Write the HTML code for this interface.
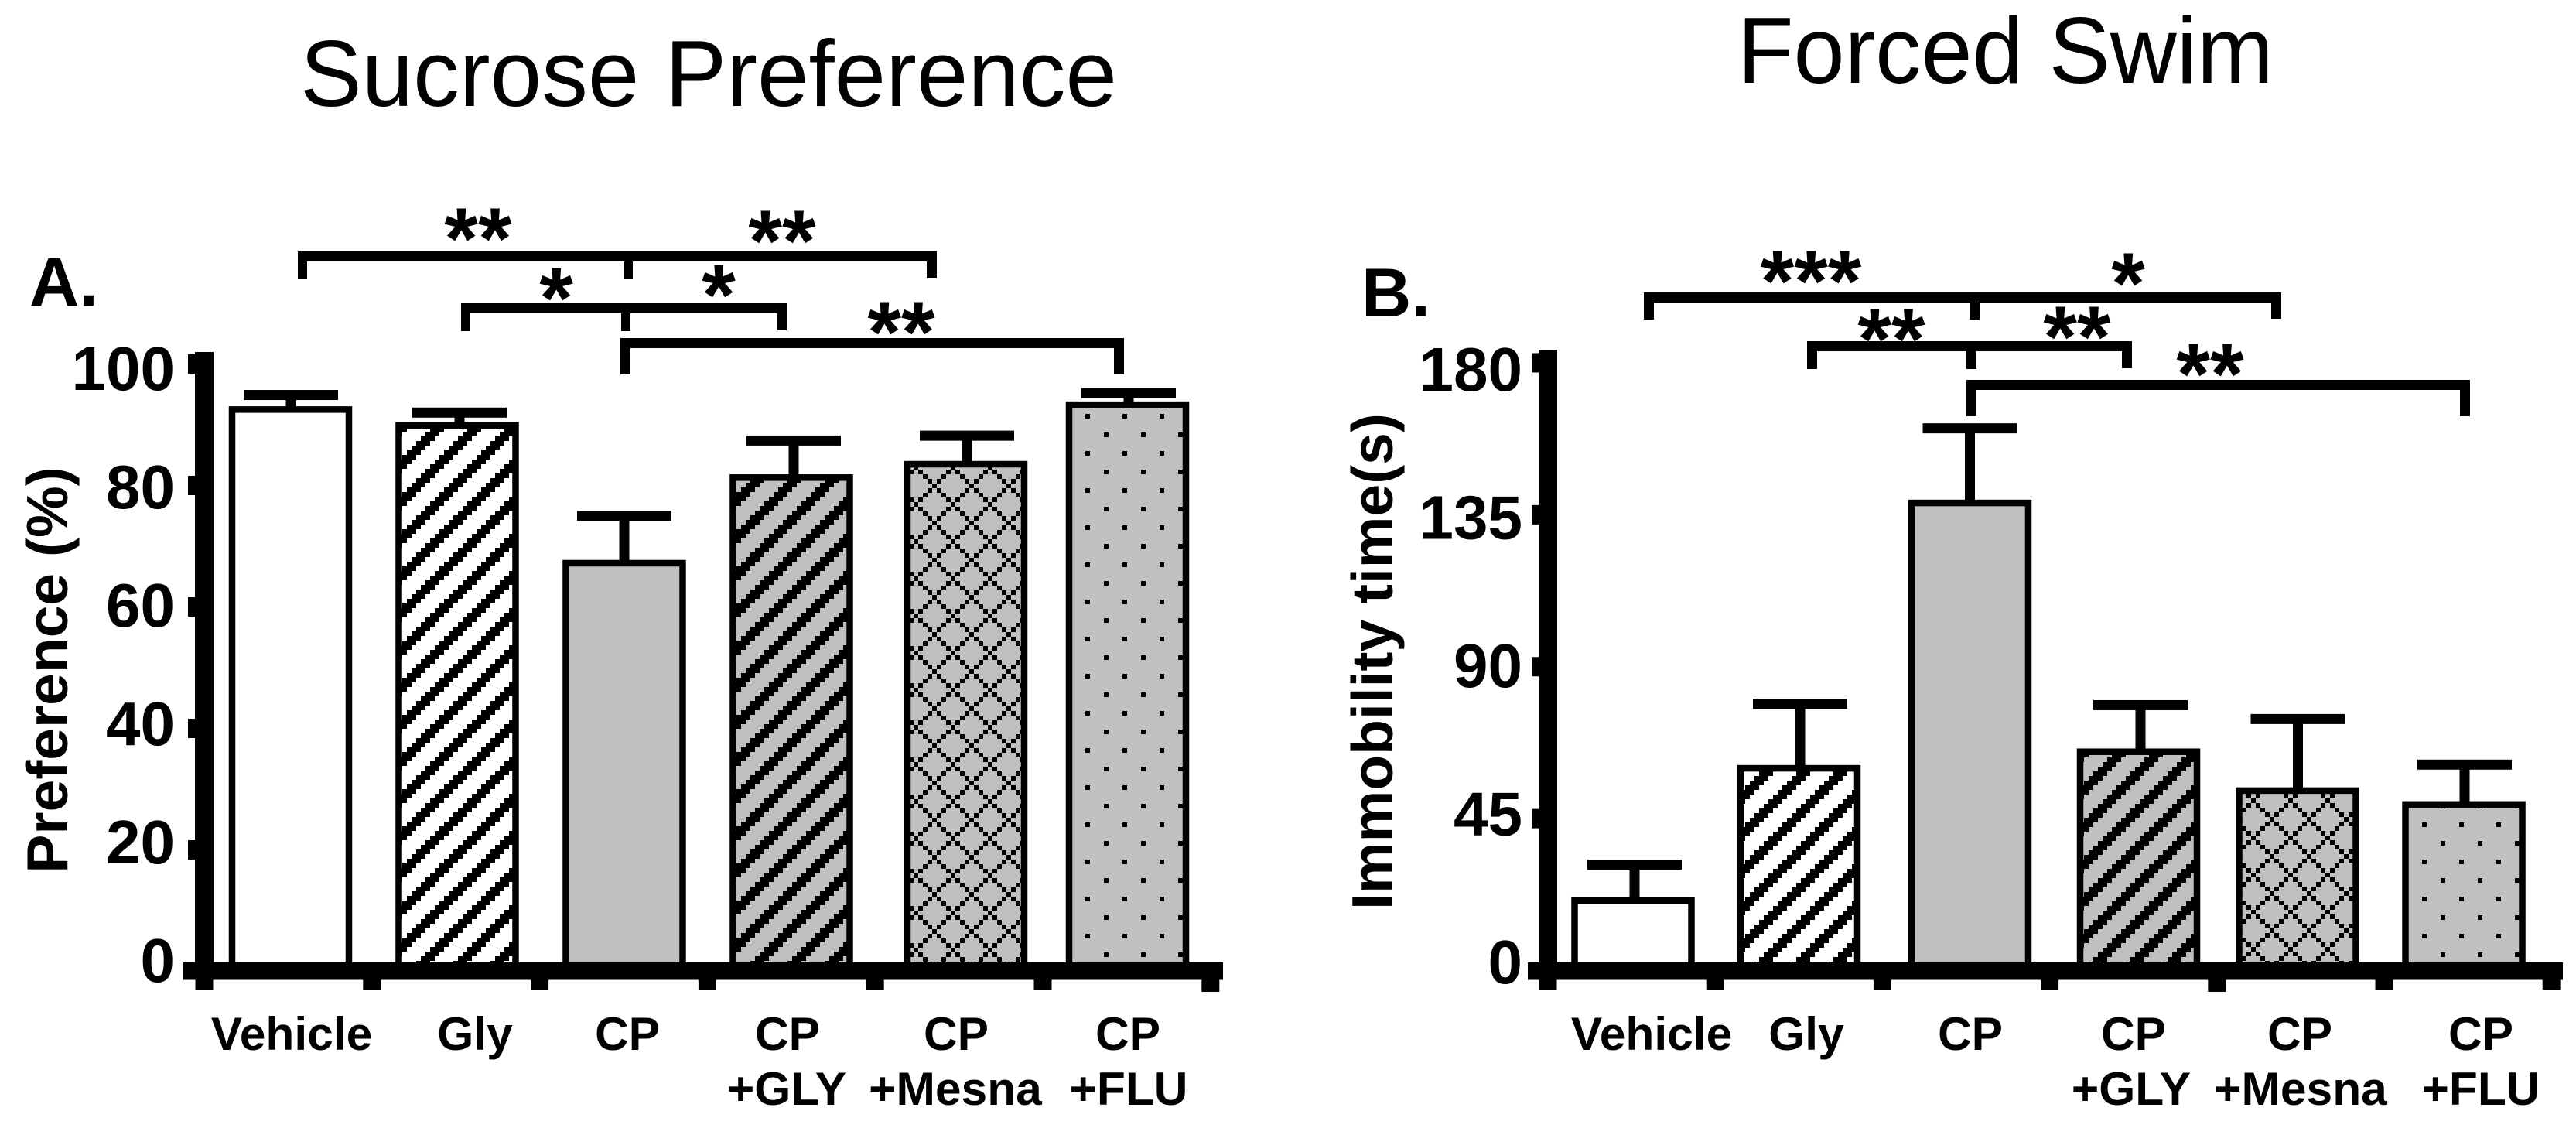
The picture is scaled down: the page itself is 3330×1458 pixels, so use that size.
<!DOCTYPE html>
<html lang="en">
<head>
<meta charset="utf-8">
<title>Sucrose Preference and Forced Swim</title>
<style>
  html, body { margin: 0; padding: 0; background: #fff; }
  body { width: 3330px; height: 1458px; overflow: hidden; }
  svg { display: block; }
  text { font-family: "Liberation Sans", Arial, sans-serif; fill: #000; }
  .title { font-size: 122px; font-weight: 400; }
  .bold { font-weight: 700; }
  .letter { font-size: 89px; font-weight: 700; }
  .ytitle { font-size: 75px; font-weight: 700; }
  .stars { font-size: 112px; font-weight: 700; text-anchor: middle; }
  .tick { font-size: 80px; font-weight: 700; text-anchor: end; }
  .cat { font-size: 60.5px; font-weight: 700; text-anchor: middle; }
</style>
</head>
<body>
<svg id="chart" xmlns="http://www.w3.org/2000/svg" width="3330" height="1458" viewBox="0 0 3330 1458">
  <defs id="defs"></defs>
  <rect x="0" y="0" width="3330" height="1458" fill="#fff"/>

  <text class="title" x="388" y="137" textLength="1056" lengthAdjust="spacingAndGlyphs">Sucrose Preference</text>
  <text class="title" x="2246" y="107" textLength="693" lengthAdjust="spacingAndGlyphs">Forced Swim</text>

  <text class="letter" x="38" y="395">A.</text>
  <text class="letter" x="1760" y="409">B.</text>

  <text class="ytitle" text-anchor="middle" transform="translate(87 866) rotate(-90)">Preference (%)</text>
  <text class="ytitle" text-anchor="middle" transform="translate(1800 855) rotate(-90)">Immobility time(s)</text>

  <g id="panelA"></g>
  <g id="panelB"></g>

  <g fill="#000">
    <path d="M385 325H1211V359H1198V338H818V360H807V338H397V360H385Z"/>
    <path d="M596 392H1017V427H1005V405H815V428H803V405H608V428H596Z"/>
    <path d="M802 437H1453V484H1440V450H815V484H802Z"/>
    <text class="stars" x="618" y="347">**</text>
    <text class="stars" x="1011" y="350">**</text>
    <text class="stars" x="719" y="424">*</text>
    <text class="stars" x="929" y="420">*</text>
    <text class="stars" x="1165" y="468">**</text>
  </g>

  <g fill="#000">
    <path d="M2125 378H2949V412H2936V391H2559V413H2546V391H2138V413H2125Z"/>
    <path d="M2336 441H2756V476H2743V454H2555V477H2542V454H2349V477H2336Z"/>
    <path d="M2542 491H3193V538H3180V504H2555V538H2542Z"/>
    <text class="stars" x="2341" y="402">***</text>
    <text class="stars" x="2751" y="405">*</text>
    <text class="stars" x="2445" y="477">**</text>
    <text class="stars" x="2685" y="474">**</text>
    <text class="stars" x="2857" y="522">**</text>
  </g>
</svg>

<script>
// ---- chart data ----
const categoryLine1 = ['Vehicle', 'Gly', 'CP', 'CP', 'CP', 'CP'];
const categoryLine2 = ['', '', '', '+GLY', '+Mesna', '+FLU'];
const preferenceMeans = [92.5, 89.9, 67.2, 81.3, 83.5, 93.3];
const preferenceErrors = [2.4, 2.1, 7.8, 6.1, 4.7, 1.9];
const preferenceTicks = [0, 20, 40, 60, 80, 100];
const immobilityMeans = [20.7, 59.9, 138.5, 64.8, 53.3, 49.2];
const immobilityErrors = [10.7, 19.1, 22.1, 13.8, 21.2, 11.8];
const immobilityTicks = [0, 45, 90, 135, 180];

const NS = 'http://www.w3.org/2000/svg';

function mk(tag, attrs, parent) {
  const el = document.createElementNS(NS, tag);
  for (const k in attrs) el.setAttribute(k, attrs[k]);
  parent.appendChild(el);
  return el;
}

// ---- hatch tiles: 48px tiles made of 6px cells, like the bitmap hatching in the source ----
function cells(list) {
  return list.map(function (c) { return 'M' + c[0] * 6 + ' ' + c[1] * 6 + 'h6v6h-6z'; }).join('');
}
function stripeCells() {
  const out = [];
  for (let r = 0; r < 8; r++) for (let c = 0; c < 3; c++) out.push([(8 - r + c) % 8, r]);
  return out;
}
function meshCells() {
  const out = [];
  for (let k = 0; k < 8; k++) { out.push([k, k]); out.push([(8 - k) % 8, k]); }
  return out;
}
function dotCells() { return [[0, 0], [4, 4]]; }

function makePattern(id, x, y, bg, list) {
  const defs = document.getElementById('defs');
  const p = mk('pattern', { id: id, patternUnits: 'userSpaceOnUse', x: x, y: y, width: 48, height: 48 }, defs);
  mk('rect', { x: 0, y: 0, width: 48, height: 48, fill: bg, 'shape-rendering': 'crispEdges' }, p);
  mk('path', { d: cells(list), fill: '#000', 'shape-rendering': 'crispEdges' }, p);
}
const GREY = '#c0c0c0';
makePattern('stripeWhiteA', 4, 0, '#fff', stripeCells());
makePattern('stripeGreyA', 4, 0, GREY, stripeCells());
makePattern('meshA', 1205, 625, GREY, meshCells());
makePattern('dotsA', 1403, 535, GREY, dotCells());
makePattern('stripeWhiteB', 6, 1, '#fff', stripeCells());
makePattern('stripeGreyB', 6, 1, GREY, stripeCells());
makePattern('meshB', 2934, 1056, GREY, meshCells());
makePattern('dotsB', 3131, 1063, GREY, dotCells());

// ---- one bar panel, drawn from its data arrays through axis functions ----
function drawPanel(root, means, errors, ticks, cfg) {
  const y = function (v) { return cfg.zeroY - v * cfg.pxPerUnit; };
  const x = function (i) { return cfg.bandStart + i * cfg.bandStep; };
  const labelY = function (v) { return cfg.labelZeroY - v * cfg.labelPxPerUnit; };

  means.forEach(function (mean, i) {
    const cx = x(i) + cfg.barShift[i];
    const capX = x(i) + cfg.capShift[i];
    const topY = y(mean);
    const capY = y(mean + errors[i]);

    const stem = mk('rect', { x: capX - 6.5, y: capY, width: 13, height: topY - capY, fill: '#000' }, root);
    
    

    const cap = mk('rect', { x: capX - 61, y: capY - 6.5, width: 122, height: 13, fill: '#000' }, root);
    
    

    const bar = mk('rect', {
      x: cx - 75.5, y: topY, width: 151, height: cfg.zeroY - topY,
      fill: cfg.fills[i], stroke: '#000', 'stroke-width': 8.5
    }, root);
    
    

    const line1 = mk('text', { class: 'cat', x: cfg.labelX[i], y: 1357 }, root);
    line1.textContent = categoryLine1[i];
    
    

    if (categoryLine2[i]) {
      const line2 = mk('text', { class: 'cat', x: cfg.labelX2[i], y: 1428 }, root);
      line2.textContent = categoryLine2[i];
      
      
    }
  });

  const yAxis = mk('rect', { x: cfg.axisLeft, y: cfg.axisTop, width: 24, height: 1266 - cfg.axisTop, fill: '#000' }, root);
  
  

  const xAxis = mk('rect', { x: cfg.xAxisLeft, y: 1244, width: cfg.xAxisRight - cfg.xAxisLeft, height: 22.5, fill: '#000' }, root);
  
  

  ticks.forEach(function (t) {
    if (t !== 0) {
      const mark = mk('rect', { x: cfg.axisLeft - 9, y: y(t) - 12.5, width: 10, height: 25, fill: '#000' }, root);
      
      
    }
    const label = mk('text', { class: 'tick', x: cfg.tickLabelRight, y: labelY(t) + 29 }, root);
    label.textContent = String(t);
    
    
  });

  for (let i = 0; i <= means.length; i++) {
    const mark = mk('rect', { x: cfg.tickStart + i * cfg.tickStep - 11.5, y: 1260, width: 23, height: 20 + cfg.tickExtra[i], fill: '#000' }, root);
    
    
  }
}

drawPanel(document.getElementById('panelA'), preferenceMeans, preferenceErrors, preferenceTicks, {
  zeroY: 1255.5, pxPerUnit: 7.85, labelZeroY: 1240, labelPxPerUnit: 7.65,
  bandStart: 375, bandStep: 217,
  barShift: [0.5, -1, -2, -3, 5.5, -2.5],
  capShift: [1, 2, -2, 0, 7, -1],
  fills: ['#fff', 'url(#stripeWhiteA)', GREY, 'url(#stripeGreyA)', 'url(#meshA)', 'url(#dotsA)'],
  labelX: [377, 614, 811, 1018, 1236, 1458],
  labelX2: [0, 0, 0, 1017, 1235, 1459],
  axisLeft: 252, axisTop: 455, xAxisLeft: 237, xAxisRight: 1581,
  tickLabelRight: 226, tickStart: 264, tickStep: 216.8,
  tickExtra: [0, 0, 0, 0, 0, 0, 2]
});

drawPanel(document.getElementById('panelB'), immobilityMeans, immobilityErrors, immobilityTicks, {
  zeroY: 1254.5, pxPerUnit: 4.364, labelZeroY: 1242, labelPxPerUnit: 4.255,
  bandStart: 2111, bandStep: 215,
  barShift: [0, -0.5, 5.5, 8.5, -1, -1],
  capShift: [2, 1, 5.5, 11, -0.5, 0],
  fills: ['#fff', 'url(#stripeWhiteB)', GREY, 'url(#stripeGreyB)', 'url(#meshB)', 'url(#dotsB)'],
  labelX: [2135, 2335, 2547, 2758, 2973, 3207],
  labelX2: [0, 0, 0, 2755, 2974, 3207],
  axisLeft: 1989, axisTop: 452, xAxisLeft: 1975, xAxisRight: 3313,
  tickLabelRight: 1968, tickStart: 2001, tickStep: 216.2,
  tickExtra: [0, 0, 0, 0, 2, 0, -1]
});
</script>
</body>
</html>
